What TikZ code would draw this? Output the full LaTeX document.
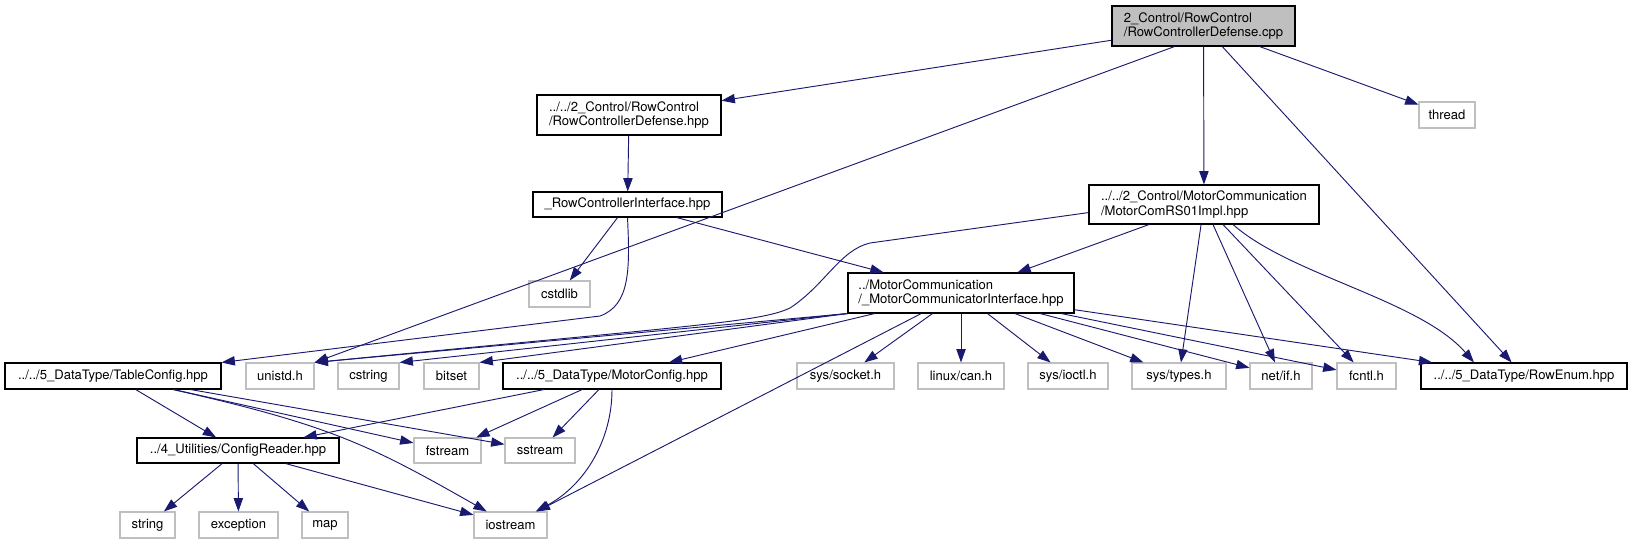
\documentclass[tikz,border=0pt]{standalone}
\usepackage{fontspec}
\setmainfont{TeX Gyre Heros}
\usepackage{tikz}
\usetikzlibrary{calc,arrows.meta}
\definecolor{cEdge}{RGB}{25,25,112}
\definecolor{cSys}{RGB}{191,191,191}
\definecolor{cRoot}{RGB}{191,191,191}

\tikzset{
  incfile/.style={draw=black, line width=0.8pt, inner sep=0pt, minimum height=19.5pt,
    font=\fontsize{9.8}{11}\selectfont},
  sysfile/.style={incfile, draw=cSys},
  twoline/.style={align=left, minimum height=30pt},
  dep/.style={cEdge, line width=0.7pt, -{Triangle[length=10pt,width=7pt]}}
}

\begin{document}
\begin{tikzpicture}[x=0.75pt,y=-0.75pt]
  \useasboundingbox (0,0) rectangle (1633,544);
  % top of the graph
  \node[incfile, twoline, fill=cRoot, minimum width=137.25pt] (root) at (1203.5,26)
    {2\_Control/RowControl\\/RowControllerDefense.cpp};
  \node[incfile, twoline, minimum width=138pt] (rcdHpp) at (629,115)
    {../../2\_Control/RowControl\\/RowControllerDefense.hpp};
  \node[sysfile, minimum width=42pt] (thread) at (1447,115) {thread};
  \node[incfile, minimum width=141.75pt, minimum height=18.75pt] (rcIface) at (627.5,204.5)
    {\_RowControllerInterface.hpp};
  \node[incfile, twoline, minimum width=172.5pt, minimum height=29.25pt] (rs01) at (1204,204.5)
    {../../2\_Control/MotorCommunication\\/MotorComRS01Impl.hpp};
  \node[sysfile, minimum width=45.75pt] (cstdlib) at (559.5,294) {cstdlib};
  \node[incfile, twoline, minimum width=169.5pt] (mcIface) at (961,293)
    {../MotorCommunication\\/\_MotorCommunicatorInterface.hpp};
  % middle row
  \node[incfile, minimum width=162pt] (tableCfg) at (113,376) {../../5\_DataType/TableConfig.hpp};
  \node[sysfile, minimum width=51pt] (unistd) at (280,376) {unistd.h};
  \node[sysfile, minimum width=45.75pt] (cstring) at (368.5,376) {cstring};
  \node[sysfile, minimum width=41.25pt] (bitset) at (451.5,376) {bitset};
  \node[incfile, minimum width=163.5pt] (motorCfg) at (612,376) {../../5\_DataType/MotorConfig.hpp};
  \node[sysfile, minimum width=72.75pt] (socket) at (845.5,376) {sys/socket.h};
  \node[sysfile, minimum width=64.5pt] (can) at (961,376) {linux/can.h};
  \node[sysfile, minimum width=60pt] (ioctl) at (1068,376) {sys/ioctl.h};
  \node[sysfile, minimum width=70.5pt] (types) at (1179,376) {sys/types.h};
  \node[sysfile, minimum width=46.5pt] (netif) at (1281,376) {net/if.h};
  \node[sysfile, minimum width=44.25pt] (fcntl) at (1366.5,376) {fcntl.h};
  \node[incfile, minimum width=154.5pt] (rowEnum) at (1524,376) {../../5\_DataType/RowEnum.hpp};
  % lower rows
  \node[incfile, minimum width=151.5pt, minimum height=18.75pt] (cfgReader) at (238,450.5)
    {../4\_Utilities/ConfigReader.hpp};
  \node[sysfile, minimum width=50.25pt, minimum height=18.75pt] (fstream) at (447.5,450.5) {fstream};
  \node[sysfile, minimum width=52.5pt, minimum height=18.75pt] (sstream) at (540,450.5) {sstream};
  \node[sysfile, minimum width=41.25pt] (string) at (147.5,525) {string};
  \node[sysfile, minimum width=59.25pt] (exception) at (238.5,525) {exception};
  \node[sysfile, minimum width=34.5pt] (map) at (325,525) {map};
  \node[sysfile, minimum width=54.75pt] (iostream) at (510.5,525) {iostream};

  % includes of the .cpp
  \draw[dep] (root) -- (rcdHpp);
  \draw[dep] ($(root.south)+(-29,0)$) -- (unistd.north east);
  \draw[dep] (root) -- (rs01);
  \draw[dep] (root) -- (rowEnum);
  \draw[dep] (root) -- (thread);
  % row controller
  \draw[dep] (rcdHpp) -- (rcIface);
  \draw[dep] (rcIface) -- (cstdlib);
  \draw[dep] (rcIface.south) .. controls (630,270) and (630,305) .. (600,316) -- (tableCfg.north east);
  \draw[dep] (rcIface) -- (mcIface);
  % motor implementation
  \draw[dep] (rs01) -- (mcIface);
  \draw[dep] (rs01.184) -- (870,243) .. controls (840,250) and (825,285) .. (790,308)
    .. controls (760,322) and (700,325) .. (unistd.north east);
  \draw[dep] (rs01) -- (types);
  \draw[dep] (rs01) -- (netif);
  \draw[dep] (rs01) -- (fcntl);
  \draw[dep] ($(rs01.south)+(29,0)$) .. controls (1290,275) and (1420,300) .. ($(rowEnum.north)+(-50,0)$);
  % communicator interface
  \draw[dep] (mcIface.south west) -- (unistd.north east);
  \draw[dep] (mcIface.south west) -- (cstring.north east);
  \draw[dep] (mcIface.south west) -- (bitset.north east);
  \draw[dep] (mcIface) -- (motorCfg);
  \draw[dep] (mcIface) -- (iostream);
  \draw[dep] (mcIface) -- (socket);
  \draw[dep] (mcIface) -- (can);
  \draw[dep] (mcIface) -- (ioctl);
  \draw[dep] (mcIface) -- (types);
  \draw[dep] (mcIface) -- (netif);
  \draw[dep] (mcIface) -- (fcntl);
  \draw[dep] (mcIface) -- (rowEnum);
  % data types
  \draw[dep] (tableCfg) -- (cfgReader);
  \draw[dep] (tableCfg) -- (fstream);
  \draw[dep] (tableCfg) -- (sstream);
  \draw[dep] (tableCfg) .. controls (330,425) and (370,445) .. (iostream);
  \draw[dep] (motorCfg) -- (cfgReader);
  \draw[dep] (motorCfg) -- (fstream);
  \draw[dep] (motorCfg) -- (sstream);
  \draw[dep] (motorCfg.south) .. controls (612,440) and (585,485) .. (iostream);
  % config reader
  \draw[dep] (cfgReader) -- (string);
  \draw[dep] (cfgReader) -- (exception);
  \draw[dep] (cfgReader) -- (map);
  \draw[dep] (cfgReader) -- (iostream);
\end{tikzpicture}
\end{document}
